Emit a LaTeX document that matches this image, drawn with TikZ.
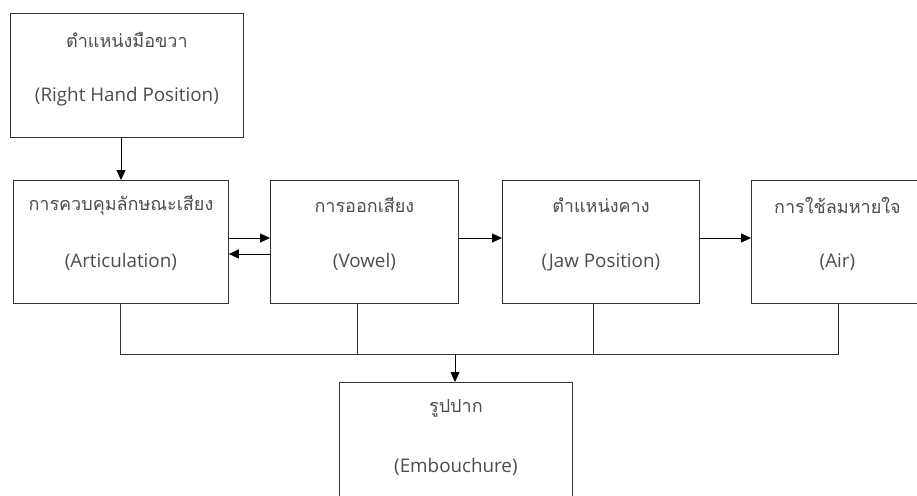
\documentclass[tikz,border=0pt]{standalone}
\usepackage{fontspec}
\setmainfont{Open Sans}
\newfontfamily\thaifont[Script=Thai]{Loma}
\usetikzlibrary{arrows.meta,calc}
\begin{document}
\begin{tikzpicture}[x=1pt,y=-1pt,
  box/.style={draw=black!80, line width=0.8pt, anchor=north west, inner sep=0pt},
  th/.style={font=\thaifont\fontsize{18}{21}\selectfont, text=black!70},
  en/.style={font=\fontsize{18.8}{22}\selectfont, text=black!70},
  arr/.style={-{Triangle[length=10pt,width=9pt]}, line width=0.8pt, draw=black},
  ln/.style={line width=0.8pt, draw=black!80}]
\path[clip] (0,0) rectangle (917,495);
% boxes
\node[box, minimum width=233pt, minimum height=124pt] (top) at (10,13) {};
\node[box, minimum width=215pt, minimum height=123pt] (b1) at (13,180) {};
\node[box, minimum width=188pt, minimum height=123pt] (b2) at (270,180) {};
\node[box, minimum width=197pt, minimum height=123pt] (b3) at (502,180) {};
\node[box, minimum width=172pt, minimum height=123pt] (b4) at (751,180) {};
\node[box, minimum width=233pt, minimum height=140pt] (emb) at (339,382) {};
% texts
\node[th] (topth) at ($(top.north)+(0,27)$) {ตำแหน่งมือขวา};
\node[en] (topen) at ($(top.north)+(0,84)$) {(Right Hand Position)};
\node[th] (b1th) at ($(b1.north)+(0,25)$) {การควบคุมลักษณะเสียง};
\node[en] (b1en) at ($(b1.north)+(0,82)$) {(Articulation)};
\node[th] (b2th) at ($(b2.north)+(0,25)$) {การออกเสียง};
\node[en] (b2en) at ($(b2.north)+(0,82)$) {(Vowel)};
\node[th] (b3th) at ($(b3.north)+(0,25)$) {ตำแหน่งคาง};
\node[en] (b3en) at ($(b3.north)+(0,82)$) {(Jaw Position)};
\node[th] (b4th) at ($(b4.north)+(0,25)$) {การใช้ลมหายใจ};
\node[en] (b4en) at ($(b4.north)+(0,82)$) {(Air)};
\node[th] (embth) at ($(emb.north)+(0,26)$) {รูปปาก};
\node[en] (emben) at ($(emb.north)+(0,85)$) {(Embouchure)};
% helper coordinates
\coordinate (xa) at (121,0);
\coordinate (ya) at (0,238);
\coordinate (yb) at (0,254);
\coordinate (ybus) at (0,354);
\coordinate (x1) at (120,0);
\coordinate (x2) at (357,0);
\coordinate (x3) at (593,0);
\coordinate (x4) at (838,0);
\coordinate (xm) at (455,0);
% connectors
\draw[arr] (top.south -| xa) -- (b1.north -| xa);
\draw[arr] (b1.east |- ya) -- (b2.west |- ya);
\draw[arr] (b2.west |- yb) -- (b1.east |- yb);
\draw[arr] (b2.east |- ya) -- (b3.west |- ya);
\draw[arr] (b3.east |- ya) -- (b4.west |- ya);
\draw[ln] (b1.south -| x1) -- (x1 |- ybus) -- (x4 |- ybus) -- (b4.south -| x4);
\draw[ln] (b2.south -| x2) -- (x2 |- ybus);
\draw[ln] (b3.south -| x3) -- (x3 |- ybus);
\draw[arr] (xm |- ybus) -- (emb.north -| xm);
\end{tikzpicture}
\end{document}
